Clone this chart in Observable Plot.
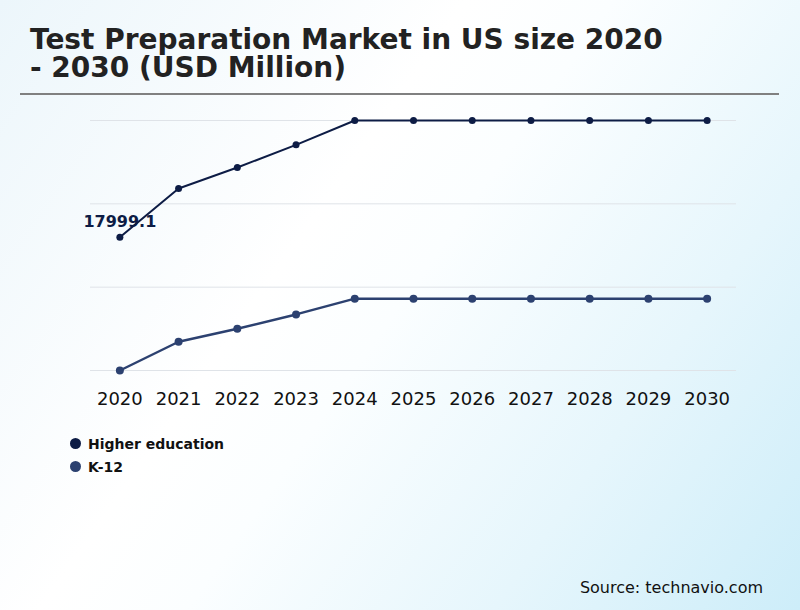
<!DOCTYPE html>
<html>
<head>
<meta charset="utf-8">
<script src="https://cdn.jsdelivr.net/npm/d3@7"></script>
<script src="https://cdn.jsdelivr.net/npm/@observablehq/plot@0.6"></script>
<style>
  html, body { margin: 0; padding: 0; }
  #wrap {
    position: relative; width: 800px; height: 610px; overflow: hidden;
    background: linear-gradient(125deg, #ecf6fb 0%, #ffffff 38%, #fbfeff 50%, #e6f6fc 75%, #cdedf9 100%);
    font-family: "DejaVu Sans", sans-serif;
  }
  #title {
    position: absolute; left: 30px; top: 26px; width: 660px;
    font-size: 28px; font-weight: bold; line-height: 28px; color: #222;
  }
  #rule { position: absolute; left: 20px; top: 93px; width: 759px; height: 2px; background: #808080; }
  #chart { position: absolute; left: 0; top: 100px; }
  #legend { position: absolute; left: 70px; top: 432px; font-size: 14px; font-weight: bold; color: #111; }
  .item { display: flex; align-items: center; height: 23px; }
  .dot { width: 11px; height: 11px; border-radius: 50%; margin-right: 7px; }
  #source { position: absolute; right: 37px; top: 578px; font-size: 16px; color: #111; }
</style>
</head>
<body>
<div id="wrap">
  <div id="title">Test Preparation Market in US size 2020<br>- 2030 (USD Million)</div>
  <div id="rule"></div>
  <div id="chart"></div>
  <div id="legend"></div>
  <div id="source">Source: technavio.com</div>
</div>
<script>
const years = [2020, 2021, 2022, 2023, 2024, 2025, 2026, 2027, 2028, 2029, 2030];
const higherEducation = [17999.1, 20920, 22180, 23540, 25000, 25000, 25000, 25000, 25000, 25000, 25000];
const k12 = [10000, 11725, 12505, 13365, 14310, 14310, 14310, 14310, 14310, 14310, 14310];
const seriesNames = ["Higher education", "K-12"];
const seriesColors = ["#0d1c45", "#2c4170"];
const gridValues = [10000, 15000, 20000, 25000];
const labelText = ["17999.1"];

const rows = [];
years.forEach((yr, i) => {
  rows.push({year: yr, value: higherEducation[i], series: seriesNames[0]});
  rows.push({year: yr, value: k12[i], series: seriesNames[1]});
});

const plot = Plot.plot({
  width: 800,
  height: 320,
  marginTop: 20,
  marginBottom: 50,
  marginLeft: 90,
  marginRight: 64,
  style: {background: "transparent", fontFamily: "DejaVu Sans, sans-serif", color: "#111", overflow: "visible"},
  x: {type: "point", domain: years, padding: 0.5, round: false, label: null},
  y: {domain: [10000, 25000], axis: null},
  marks: [
    Plot.gridY(gridValues, {stroke: "#dfe3e8", strokeOpacity: 1, strokeWidth: 1}),
    Plot.line(rows.filter(d => d.series === seriesNames[1]), {x: "year", y: "value", stroke: seriesColors[1], strokeWidth: 2.5}),
    Plot.dot(rows.filter(d => d.series === seriesNames[1]), {x: "year", y: "value", fill: seriesColors[1], r: 4}),
    Plot.line(rows.filter(d => d.series === seriesNames[0]), {x: "year", y: "value", stroke: seriesColors[0], strokeWidth: 2}),
    Plot.dot(rows.filter(d => d.series === seriesNames[0]), {x: "year", y: "value", fill: seriesColors[0], r: 3.5}),
    Plot.text([{year: years[0], value: higherEducation[0], t: labelText[0]}], {
      x: "year", y: "value", text: "t", dy: -15, fontSize: 16, fontWeight: "bold", fill: seriesColors[0], textAnchor: "middle"
    }),
    Plot.axisX({tickSize: 0, tickPadding: 22, fontSize: 18, label: null, tickFormat: d => String(d)})
  ]
});
document.getElementById("chart").appendChild(plot);

const legend = document.getElementById("legend");
seriesNames.forEach((name, i) => {
  const item = document.createElement("div");
  item.className = "item";
  const dot = document.createElement("span");
  dot.className = "dot";
  dot.style.background = seriesColors[i];
  const label = document.createElement("span");
  label.textContent = name;
  item.appendChild(dot);
  item.appendChild(label);
  legend.appendChild(item);
});
</script>
</body>
</html>
